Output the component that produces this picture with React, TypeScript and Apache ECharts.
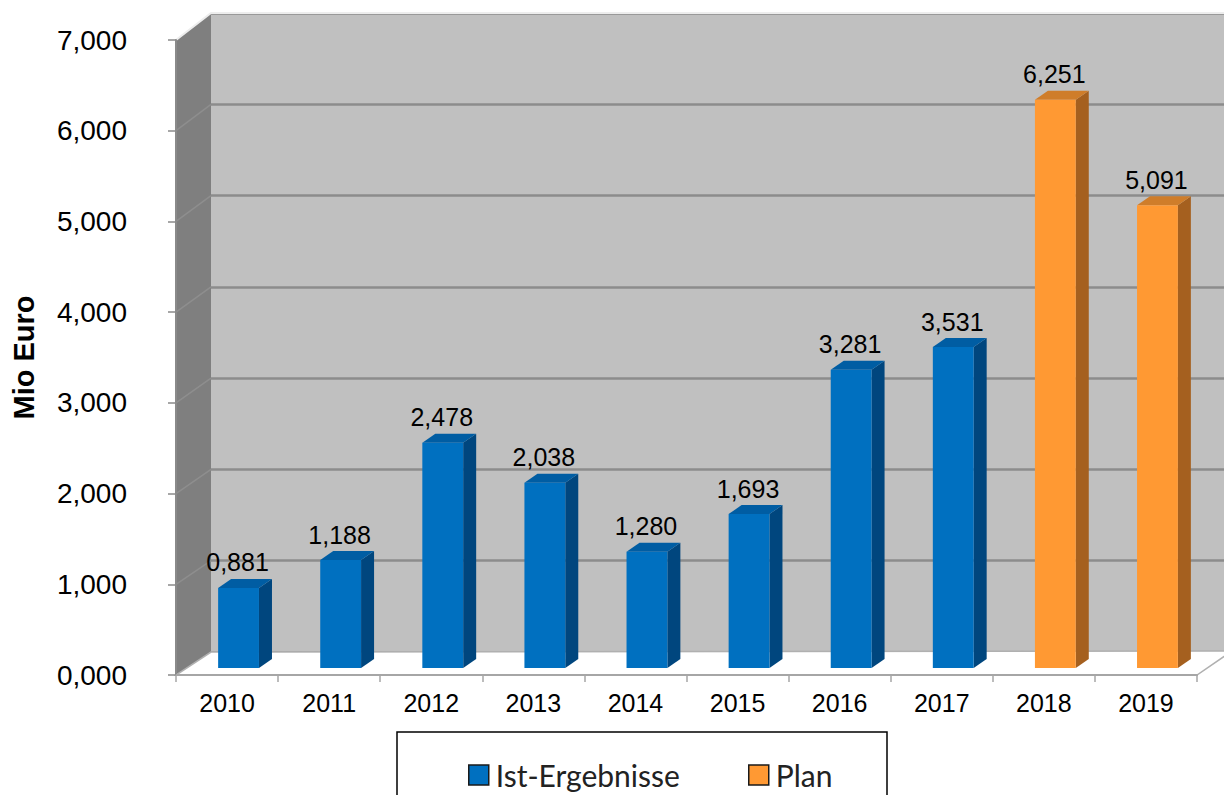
import React, { useEffect, useRef } from 'react';
import * as echarts from 'echarts';

const categories = ['2010', '2011', '2012', '2013', '2014', '2015', '2016', '2017', '2018', '2019'];
const istName = 'Ist-Ergebnisse';
const planName = 'Plan';
const istValues = [0.881, 1.188, 2.478, 2.038, 1.28, 1.693, 3.281, 3.531];
const planValues = [6.251, 5.091];
const planStart = 8;
const yMin = 0;
const yMax = 7;
const yInterval = 1;
const yTitle = 'Mio Euro';

// layout (pixels)
const FRONT = { left: 176, top: 40, right: 1197, bottom: 675 };
const BACK = { left: 211, top: 13, right: 1224, bottom: 652 };
const BARS = { left: 187.5, right: 1208.5, top: 31.7, bottom: 668 };

const COLORS = {
  ist: { front: '#0070c0', side: '#00467e', top: '#005da3' },
  plan: { front: '#ff9933', side: '#a5601f', top: '#cf7d2a' },
};

const fmt = (v: number) => v.toFixed(3).replace('.', ',');
const NUM_FONT = '"Liberation Sans", Arial, sans-serif';
const LEG_FONT = 'Lato, "Open Sans", sans-serif';

function makeRender(c: { front: string; side: string; top: string }) {
  return (params: any, api: any) => {
    const x = api.value(0);
    const v = api.value(1);
    const top = api.coord([x, v]);
    const base = api.coord([x, 0]);
    const w = api.size([1, 0])[0] * 0.4;
    const dx = 13;
    const dy = -9;
    const l = top[0] - w / 2;
    const r = top[0] + w / 2;
    return {
      type: 'group',
      children: [
        {
          type: 'polygon',
          shape: { points: [[r, top[1]], [r + dx, top[1] + dy], [r + dx, base[1] + dy], [r, base[1]]] },
          style: { fill: c.side },
        },
        {
          type: 'polygon',
          shape: { points: [[l, top[1]], [l + dx, top[1] + dy], [r + dx, top[1] + dy], [r, top[1]]] },
          style: { fill: c.top },
        },
        {
          type: 'rect',
          shape: { x: l, y: top[1], width: w, height: base[1] - top[1] },
          style: { fill: c.front },
        },
        {
          type: 'text',
          style: {
            text: fmt(v),
            x: top[0] - 1,
            y: top[1] - 13,
            align: 'center',
            verticalAlign: 'bottom',
            fontSize: 25,
            fontFamily: NUM_FONT,
            fill: '#000',
          },
        },
      ],
    };
  };
}

export default function App() {
  const ref = useRef<HTMLDivElement>(null);
  useEffect(() => {
    document.body.style.margin = '0';
    document.body.style.overflow = 'hidden';
    const chart = echarts.init(ref.current!, null, { renderer: 'svg' });
    const fy = (v: number) => FRONT.bottom - ((v - yMin) / (yMax - yMin)) * (FRONT.bottom - FRONT.top);
    const by = (v: number) => BACK.bottom - ((v - yMin) / (yMax - yMin)) * (BACK.bottom - BACK.top);
    const wallLines: any[] = [];
    for (let v = yMin + yInterval; v < yMax; v += yInterval) {
      wallLines.push({
        type: 'line',
        z: 2,
        shape: { x1: FRONT.left, y1: fy(v), x2: BACK.left, y2: by(v) },
        style: { stroke: '#8e8e8e', lineWidth: 1.5 },
      });
    }
    const grids = [
      { left: FRONT.left, top: FRONT.top, width: FRONT.right - FRONT.left, height: FRONT.bottom - FRONT.top },
      {
        left: BACK.left, top: BACK.top, width: BACK.right - BACK.left, height: BACK.bottom - BACK.top,
        show: true, backgroundColor: '#c0c0c0', borderWidth: 0,
      },
      { left: BARS.left, top: BARS.top, width: BARS.right - BARS.left, height: BARS.bottom - BARS.top },
    ];
    const legendBase = {
      itemWidth: 20, itemHeight: 20, icon: 'rect', top: 755, z: 20,
      itemStyle: { borderColor: '#1a1a1a', borderWidth: 1.5 },
      textStyle: { fontSize: 30, color: '#222', fontFamily: LEG_FONT, padding: [0, 0, 0, 2] },
    };
    const option: any = {
      animation: false,
      backgroundColor: '#ffffff',
      grid: grids,
      xAxis: [
        {
          type: 'category', gridIndex: 0, data: categories, z: 10,
          axisLine: { show: true, lineStyle: { color: '#a6a6a6', width: 2 } },
          axisTick: { show: true, length: 7, lineStyle: { color: '#a6a6a6', width: 1.5 } },
          axisLabel: { fontSize: 25, color: '#000', fontFamily: NUM_FONT, margin: 15 },
        },
        { type: 'category', gridIndex: 1, data: categories, show: false },
        { type: 'category', gridIndex: 2, data: categories, show: false },
      ],
      yAxis: [
        {
          type: 'value', gridIndex: 0, min: yMin, max: yMax, interval: yInterval, z: 10,
          name: yTitle, nameLocation: 'middle', nameGap: 138, nameRotate: 90,
          nameTextStyle: { fontSize: 29, fontWeight: 'bold', color: '#000', fontFamily: NUM_FONT },
          axisLine: { show: true, lineStyle: { color: '#8a8a8a', width: 2 } },
          axisTick: { show: true, length: 8, lineStyle: { color: '#8a8a8a', width: 1.5 } },
          axisLabel: { fontSize: 28, color: '#000', fontFamily: NUM_FONT, margin: 49, formatter: fmt },
          splitLine: { show: false },
        },
        {
          type: 'value', gridIndex: 1, min: yMin, max: yMax, interval: yInterval,
          axisLine: { show: false }, axisTick: { show: false }, axisLabel: { show: false },
          splitLine: { show: true, lineStyle: { color: '#8c8c8c', width: 2.5 } },
        },
        {
          type: 'value', gridIndex: 2, min: yMin, max: yMax, interval: yInterval, show: false,
          splitLine: { show: false },
        },
      ],
      legend: [
        { ...legendBase, data: [istName], left: 463 },
        { ...legendBase, data: [planName], left: 743 },
      ],
      graphic: [
        // left wall
        {
          type: 'polygon', z: 1,
          shape: { points: [[FRONT.left, FRONT.top], [BACK.left, BACK.top], [BACK.left, BACK.bottom], [FRONT.left, FRONT.bottom]] },
          style: { fill: '#7f7f7f' },
        },
        ...wallLines,
        // floor
        {
          type: 'polygon', z: 1,
          shape: { points: [[FRONT.left, FRONT.bottom], [FRONT.right, FRONT.bottom], [FRONT.right + 35, BACK.bottom - 1], [BACK.left, BACK.bottom]] },
          style: { fill: '#ffffff', stroke: '#b0b0b0', lineWidth: 1.5 },
        },
        // top highlight
        {
          type: 'polyline', z: 2,
          shape: { points: [[FRONT.left, FRONT.top], [BACK.left, BACK.top], [BACK.right, BACK.top]] },
          style: { stroke: '#ededed', lineWidth: 2, fill: 'none' },
        },
        // legend box
        {
          type: 'rect', z: 5,
          shape: { x: 397, y: 732, width: 490, height: 90 },
          style: { fill: '#ffffff', stroke: '#000', lineWidth: 1.5 },
        },
      ],
      series: [
        {
          name: istName, type: 'custom', xAxisIndex: 2, yAxisIndex: 2, z: 5,
          itemStyle: { color: COLORS.ist.front },
          renderItem: makeRender(COLORS.ist),
          data: istValues.map((v, i) => [i, v]),
        },
        {
          name: planName, type: 'custom', xAxisIndex: 2, yAxisIndex: 2, z: 5,
          itemStyle: { color: COLORS.plan.front },
          renderItem: makeRender(COLORS.plan),
          data: planValues.map((v, i) => [i + planStart, v]),
        },
      ],
    };
    chart.setOption(option);
    return () => chart.dispose();
  }, []);
  return <div ref={ref} style={{ width: 1224, height: 795 }} />;
}
